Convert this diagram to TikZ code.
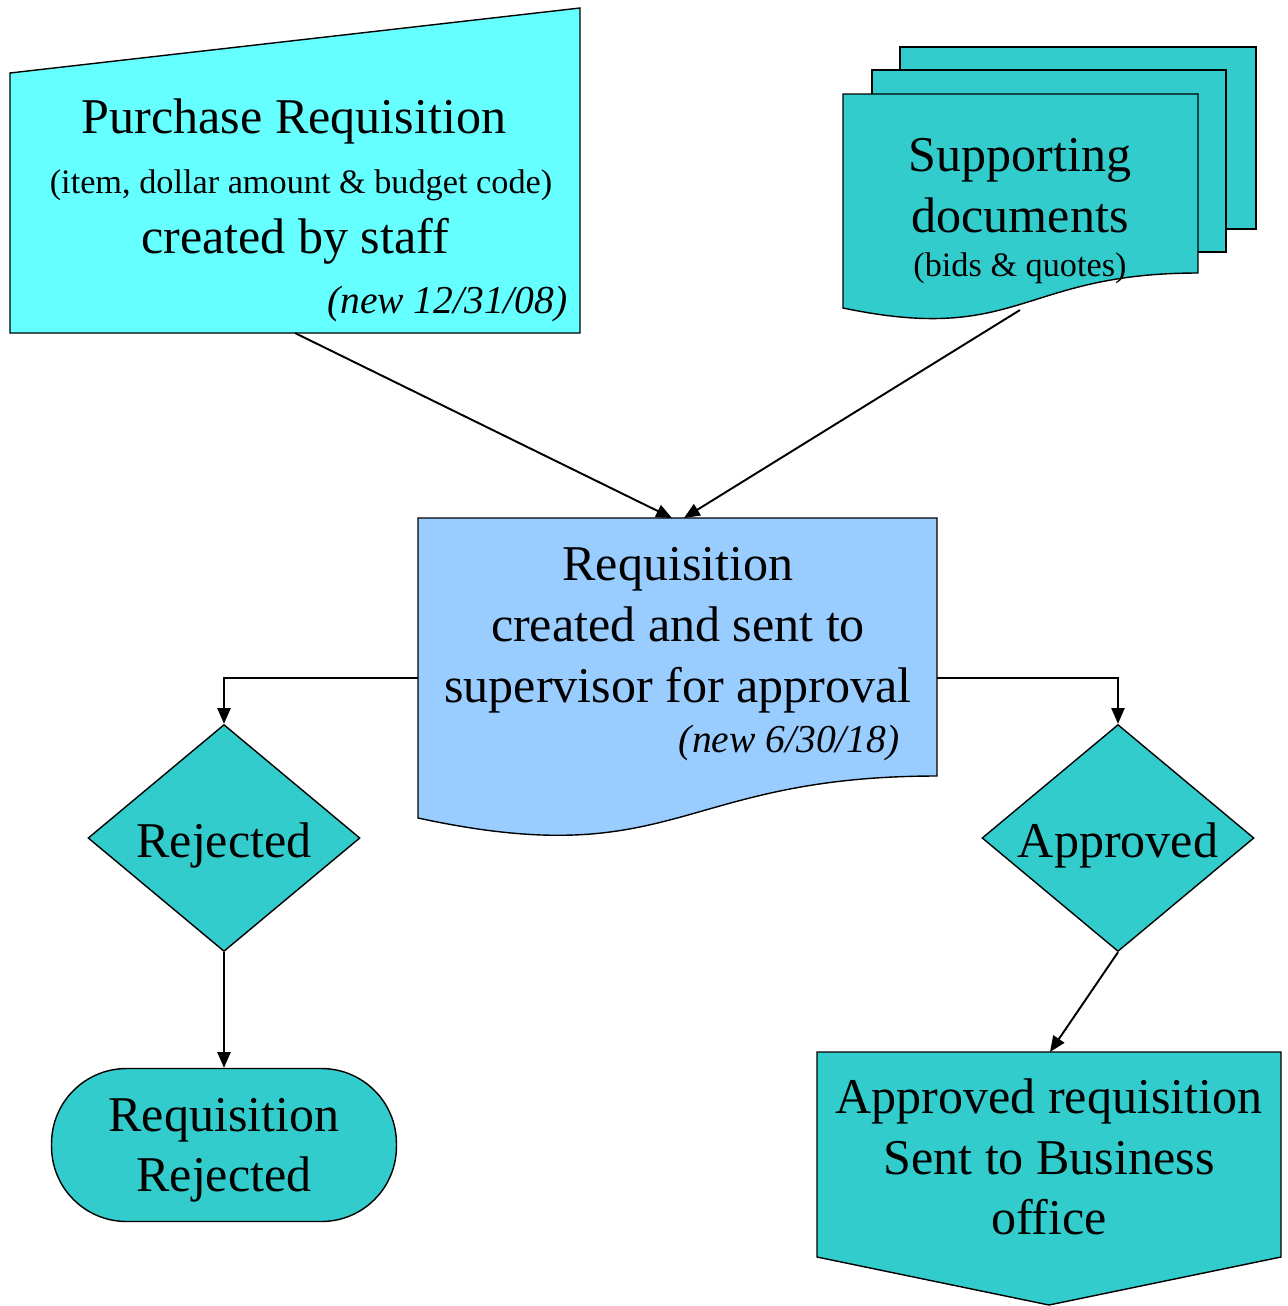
\documentclass[tikz,border=0pt]{standalone}
\usepackage{fontspec}
\setmainfont{Liberation Serif}
\usetikzlibrary{arrows.meta,shapes.geometric}
\definecolor{aqua}{HTML}{66FFFF}
\definecolor{sheet}{HTML}{33CCCC}
\definecolor{sky}{HTML}{99CCFF}
\tikzset{>/.tip={Triangle[length=9pt,width=7.5pt]}}

\begin{document}
\begin{tikzpicture}[x=0.02cm,y=-0.02cm,
  box/.style={draw,line width=0.8pt},
  flow/.style={->,line width=1.1pt},
  big/.style={font=\fontsize{28.5}{34.6}\selectfont,align=center,inner sep=0pt},
  small/.style={font=\fontsize{19.5}{23}\selectfont,inner sep=0pt},
  note/.style={font=\fontsize{22.5}{26}\selectfont\itshape,inner sep=0pt,anchor=east},
  decision/.style={shape=diamond,draw,fill=sheet,line width=0.8pt,aspect=1.2,
    minimum width=5.44cm,minimum height=4.54cm,inner sep=0pt,big,
    text height=25pt,text depth=2.5pt}]

\useasboundingbox (0,0) rectangle (1288,1306);

% purchase requisition (manual input)
\draw[box,fill=aqua] (10,73) -- (580,8) -- (580,333) -- (10,333) -- cycle;
\node[big] (prtitle) at (294,121) {Purchase Requisition};
\node[small] (prdetail) at (301,185) {(item, dollar amount \& budget code)};
\node[big] (prstaff) at (295,241) {created by staff};
\node[note] (prdate) at (568,304) {(new 12/31/08)};
\coordinate (prout) at (295,333);

% supporting documents (stack)
\draw[box,fill=sheet] (900,47) rectangle (1256,229);
\draw[box,fill=sheet] (872,70) rectangle (1226,252);
\draw[box,fill=sheet] (843,94) -- (1198,94) -- (1198,273)
  .. controls (1020,273) and (1020,345) .. (843,308) -- cycle;
\node[big] (supdoc) at (1020,186) {Supporting\\documents};
\node[small] (supnote) at (1020,268) {(bids \& quotes)};
\coordinate (supout) at (1020,310);

% requisition sent to supervisor (document)
\draw[box,fill=sky] (418,518) -- (937,518) -- (937,776)
  .. controls (677,776) and (677,874) .. (418,818) -- cycle;
\node[big] (reqtext) at (678,630) {Requisition\\created and sent to\\supervisor for approval};
\node[note] (reqdate) at (900,743) {(new 6/30/18)};
\coordinate (reqin1) at (672,518);
\coordinate (reqin2) at (684,518);
\coordinate (reqleft) at (418,678);
\coordinate (reqright) at (937,678);

% decisions
\node[decision] (rej) at (224,838) {Rejected};
\node[decision] (appr) at (1118,838) {Approved};

% outcomes
\node[big,draw,fill=sheet,line width=0.8pt,rounded corners=1.5cm,text depth=-2pt,
  minimum width=6.9cm,minimum height=3.06cm] (rejend) at (224,1145) {Requisition\\Rejected};
\draw[box,fill=sheet] (817,1052) -- (1281,1052) -- (1281,1257) -- (1049,1305)
  -- (817,1257) -- cycle;
\node[big] (office) at (1049,1157) {Approved requisition\\Sent to Business\\office};
\coordinate (offin) at (1050,1052);

% connectors
\draw[flow] (prout) -- (reqin1);
\draw[flow] (supout) -- (reqin2);
\draw[flow] (reqleft) -| (rej.north);
\draw[flow] (reqright) -| (appr.north);
\draw[flow] (rej.south) -- (rejend.north);
\draw[flow] (appr.south) -- (offin);
\end{tikzpicture}
\end{document}
